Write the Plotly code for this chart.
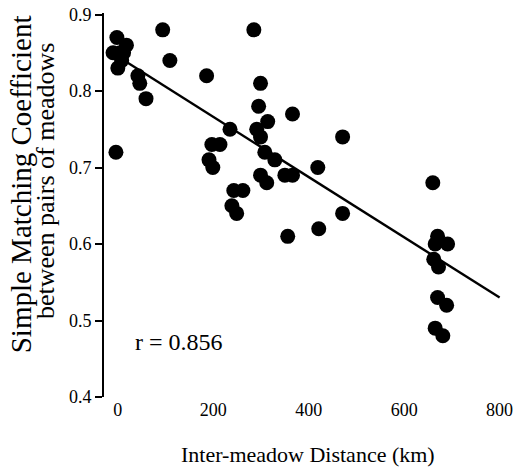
import plotly.graph_objects as go

dist_km = [-2, 18, -10, 5, 0, 12, 8, -4,
           42, 46, 59, 94, 109, 186, 285, 299, 295, 366, 314, 235, 291, 299,
           197, 214, 191, 199, 308, 329, 350, 366, 299, 312, 471, 419,
           243, 262, 239, 249, 471, 356, 421,
           660, 670, 665, 691, 662, 672, 670, 689, 665, 681]
coef = [0.87, 0.86, 0.85, 0.85, 0.83, 0.85, 0.84, 0.72,
        0.82, 0.81, 0.79, 0.88, 0.84, 0.82, 0.88, 0.81, 0.78, 0.77, 0.76, 0.75, 0.75, 0.74,
        0.73, 0.73, 0.71, 0.70, 0.72, 0.71, 0.69, 0.69, 0.69, 0.68, 0.74, 0.70,
        0.67, 0.67, 0.65, 0.64, 0.64, 0.61, 0.62,
        0.68, 0.61, 0.60, 0.60, 0.58, 0.57, 0.53, 0.52, 0.49, 0.48]

fit_x = [0, 800]
fit_y = [0.845, 0.53]

x_ticks = [0, 200, 400, 600, 800]
y_ticks = [0.4, 0.5, 0.6, 0.7, 0.8, 0.9]

FONT = "Liberation Serif"

fig = go.Figure()
fig.add_trace(go.Scatter(x=fit_x, y=fit_y, mode="lines",
                         line=dict(color="black", width=2.4), hoverinfo="skip"))
fig.add_trace(go.Scatter(x=dist_km, y=coef, mode="markers",
                         marker=dict(color="black", size=15, line=dict(width=0))))

fig.add_annotation(x=31, y=0.472, text="r = 0.856", showarrow=False,
                   xanchor="left", yanchor="middle",
                   font=dict(family=FONT, size=24, color="black"))

# axis titles as paper-positioned annotations
fig.add_annotation(xref="paper", yref="paper", x=-0.21, y=0.555,
                   text="Simple Matching Coefficient", textangle=-90, showarrow=False,
                   xanchor="center", yanchor="middle",
                   font=dict(family=FONT, size=29, color="black"))
fig.add_annotation(xref="paper", yref="paper", x=-0.145, y=0.563,
                   text="between pairs of meadows", textangle=-90, showarrow=False,
                   xanchor="center", yanchor="middle",
                   font=dict(family=FONT, size=26, color="black"))
fig.add_annotation(xref="paper", yref="paper", x=0.513, y=-0.15,
                   text="Inter-meadow Distance (km)", showarrow=False,
                   xanchor="center", yanchor="middle",
                   font=dict(family=FONT, size=22, color="black"))

fig.update_layout(
    width=518, height=472,
    margin=dict(l=104, r=16, t=13, b=75),
    paper_bgcolor="white", plot_bgcolor="white",
    showlegend=False,
    font=dict(family=FONT, color="black"),
    xaxis=dict(range=[-29, 805], tickvals=x_ticks, ticks="", automargin=False,
               showline=False, showgrid=False, zeroline=False,
               tickfont=dict(family=FONT, size=18, color="black")),
    yaxis=dict(range=[0.4, 0.902], tickvals=y_ticks, ticktext=["0.4", "0.5", "0.6", "0.7", "0.8", "0.9"],
               ticks="outside", ticklen=7, tickcolor="black", tickwidth=1.5, automargin=False,
               showline=True, linecolor="black", linewidth=2, showgrid=False, zeroline=False,
               tickfont=dict(family=FONT, size=18, color="black")),
)

fig.write_html("out.html", config={"displayModeBar": False},
               post_script="document.body.style.margin='0';document.body.style.overflow='hidden';")
